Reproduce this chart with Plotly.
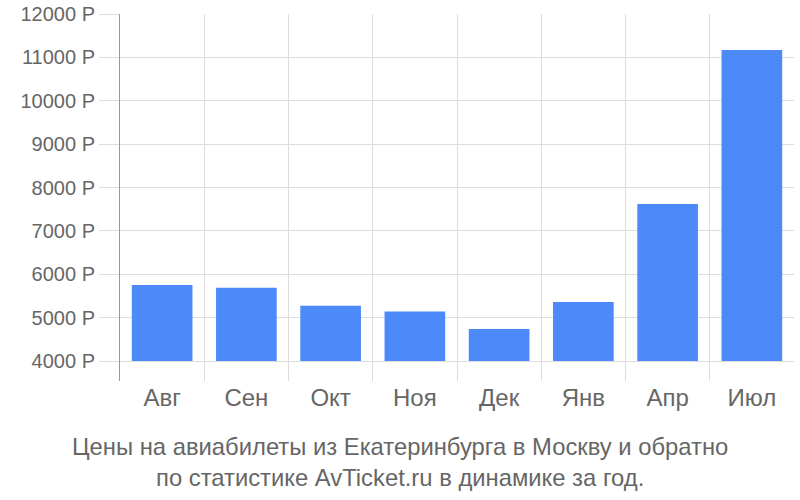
import plotly.graph_objects as go

# Цены по месяцам (руб.)
months = ["Авг", "Сен", "Окт", "Ноя", "Дек", "Янв", "Апр", "Июл"]
prices = [5750, 5690, 5275, 5140, 4740, 5360, 7620, 11170]
y_ticks = [4000, 5000, 6000, 7000, 8000, 9000, 10000, 11000, 12000]
base_price = 4000

title_lines = [
    "Цены на авиабилеты из Екатеринбурга в Москву и обратно",
    "по статистике AvTicket.ru в динамике за год.",
]

grid = "#dddddd"
text_col = "#666666"
family = "Liberation Sans, Arial, sans-serif"

fig = go.Figure(
    go.Bar(
        x=months,
        y=[p - base_price for p in prices],
        base=base_price,
        marker=dict(color="#4c89f9", line=dict(width=0)),
        hoverinfo="skip",
    )
)

fig.update_layout(
    width=800,
    height=500,
    margin=dict(l=120, r=6, t=14, b=119, autoexpand=False),
    paper_bgcolor="white",
    plot_bgcolor="white",
    bargap=0.28,
    showlegend=False,
    font=dict(family=family, size=20, color=text_col),
    annotations=[
        dict(
            text="<br>".join(title_lines),
            xref="paper", yref="paper",
            x=0.4154, y=-0.221,
            xanchor="center", yanchor="middle",
            showarrow=False,
            align="center",
            font=dict(family=family, size=23.8, color=text_col),
        )
    ],
)

fig.update_xaxes(
    tickson="boundaries",
    showgrid=True,
    gridcolor=grid,
    gridwidth=1,
    ticks="",
    showline=False,
    automargin=False,
    tickfont=dict(family=family, size=24, color=text_col),
)

fig.update_yaxes(
    range=[3539, 12002],
    tickvals=y_ticks,
    ticktext=[f"{v} Р" for v in y_ticks],
    showgrid=True,
    gridcolor=grid,
    gridwidth=1,
    ticks="outside",
    ticklen=20,
    tickcolor=grid,
    showline=True,
    linecolor="#999999",
    linewidth=1,
    zeroline=False,
    automargin=False,
    ticklabeloverflow="allow",
    tickfont=dict(family=family, size=20, color=text_col),
)

# drop the default 8px body margin so the figure fills the window
fig.write_html(
    "out.html",
    config={"displayModeBar": False},
    post_script="document.body.style.margin='0';",
)
